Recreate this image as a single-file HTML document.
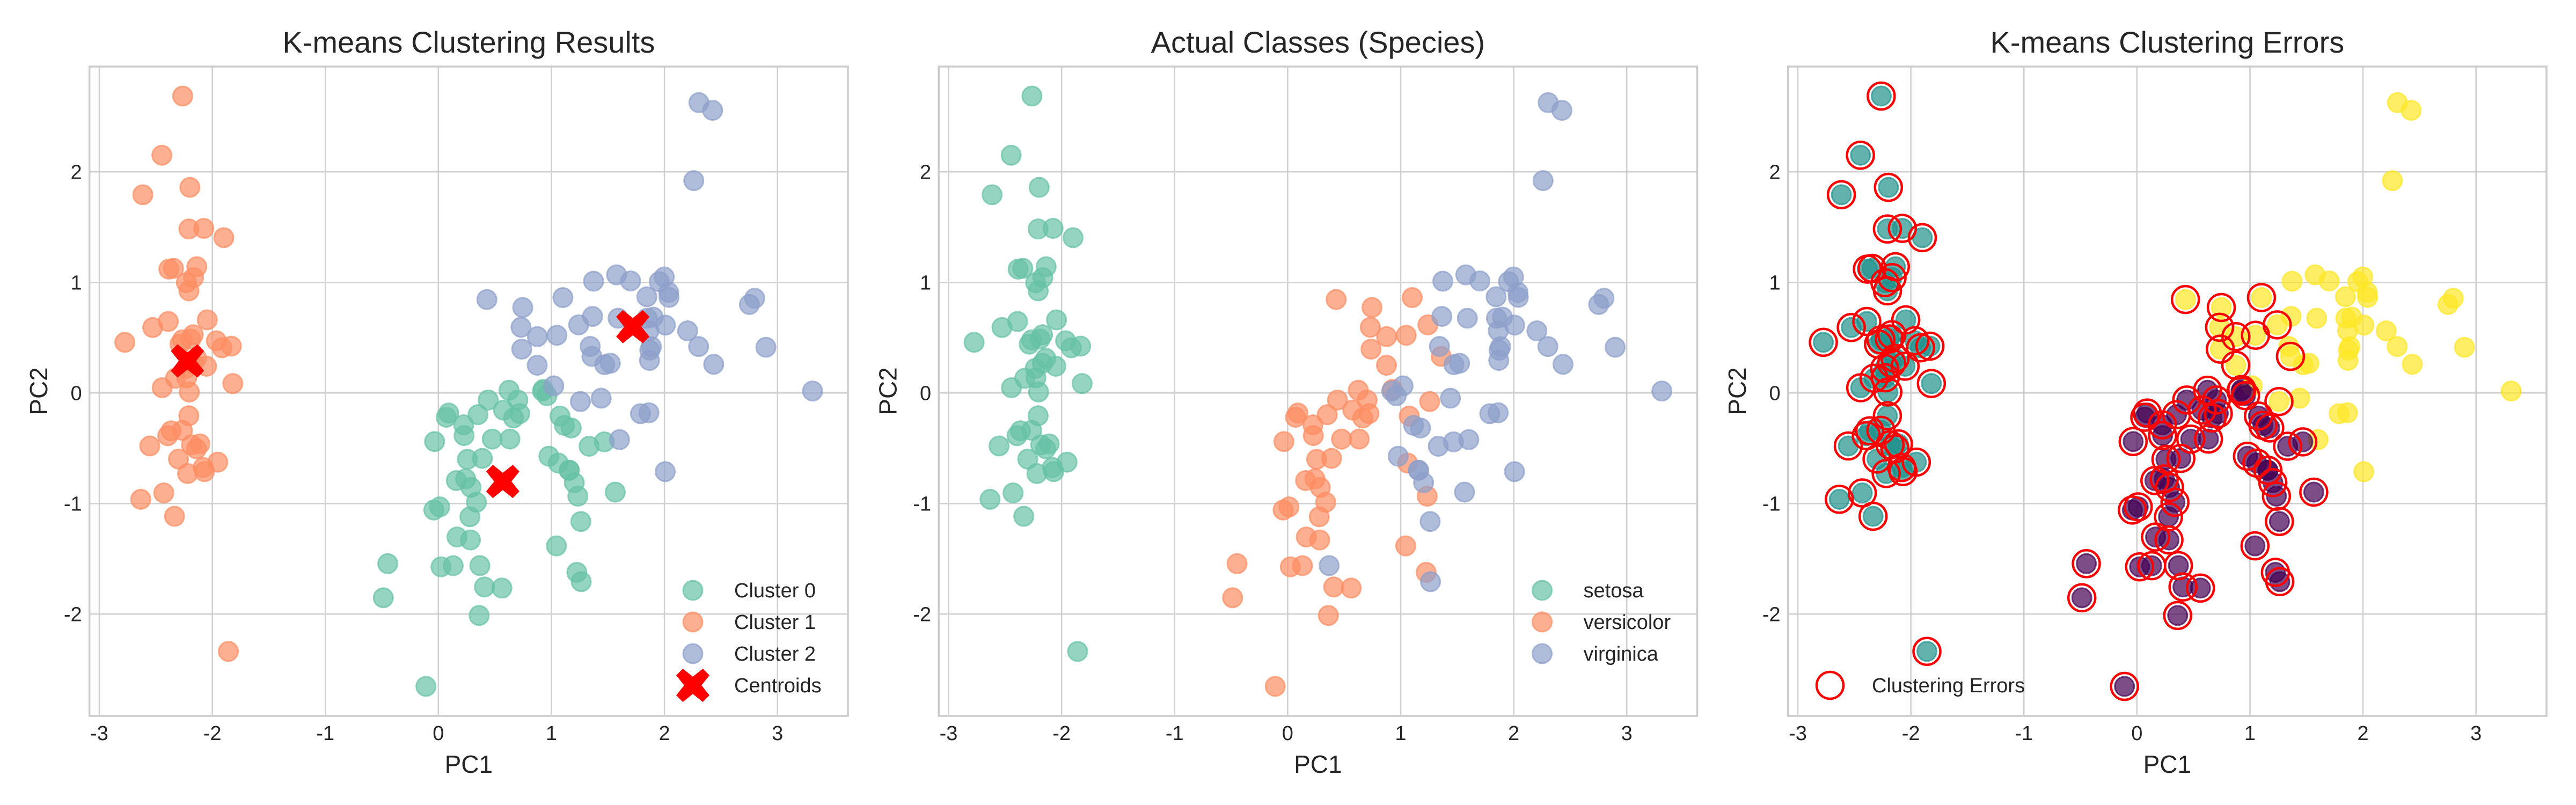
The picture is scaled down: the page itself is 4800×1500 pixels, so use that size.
<!DOCTYPE html>
<html><head><meta charset="utf-8"><style>
html,body{margin:0;padding:0;background:#fff;}
svg{display:block;font-family:"Liberation Sans",sans-serif;}
</style></head><body>
<svg id="fig" width="4800" height="1500" viewBox="0 0 4800 1500" xmlns="http://www.w3.org/2000/svg"></svg>
<script>
const setosa=[[-2.2647,0.4800],[-2.0810,-0.6741],[-2.3642,-0.3419],[-2.2994,-0.5974],[-2.3898,0.6468],[-2.0756,1.4892],[-2.4440,0.0476],[-2.2328,0.2231],[-2.3346,-1.1153],[-2.1843,-0.4690],[-2.1663,1.0437],[-2.3261,0.1331],[-2.2185,-0.7287],[-2.6331,-0.9615],[-2.1987,1.8601],[-2.2622,2.6863],[-2.2076,1.4836],[-2.1904,0.4888],[-1.8986,1.4050],[-2.3434,1.1278],[-1.9143,0.4089],[-2.2070,0.9241],[-2.7743,0.4583],[-1.8187,0.0856],[-2.2272,0.1373],[-1.9518,-0.6256],[-2.0512,0.2422],[-2.1686,0.5272],[-2.1396,0.3132],[-2.2653,-0.3377],[-2.1401,-0.5045],[-1.8316,0.4237],[-2.6149,1.7936],[-2.4462,2.1507],[-2.1100,-0.4602],[-2.2078,-0.2061],[-2.0451,0.6616],[-2.5273,0.5923],[-2.4296,-0.9042],[-2.1697,0.2689],[-2.2865,0.4417],[-1.8581,-2.3374],[-2.5536,-0.4791],[-1.9644,0.4723],[-2.1371,1.1422],[-2.0697,-0.7111],[-2.3847,1.1204],[-2.3944,-0.3862],[-2.2294,0.9980],[-2.2038,0.0092]];
const versicolor=[[1.1018,0.8630],[0.7313,0.5946],[1.2410,0.6163],[0.4075,-1.7544],[1.0755,-0.2084],[0.3887,-0.5914],[0.7465,0.7732],[-0.4873,-1.8524],[0.9279,0.0323],[0.0114,-1.0304],[-0.1102,-2.6541],[0.4407,-0.0633],[0.5621,-1.7647],[0.7196,-0.1862],[-0.0334,-0.4390],[0.8755,0.5100],[0.3503,-0.1963],[0.1588,-0.7921],[1.2251,-1.6224],[0.1649,-1.3026],[0.7377,0.3966],[0.4762,-0.4173],[1.2341,-0.9333],[0.6329,-0.4164],[0.7028,-0.0634],[0.8744,0.2508],[1.2565,-0.0773],[1.3584,0.3313],[0.6648,-0.2259],[-0.0403,-1.0587],[0.1308,-1.5623],[0.0235,-1.5725],[0.2415,-0.7773],[1.0611,-0.6338],[0.2240,-0.2878],[0.4291,0.8456],[1.0487,0.5222],[1.0445,-1.3830],[0.0696,-0.2195],[0.2835,-1.3293],[0.2791,-1.1200],[0.6248,0.0249],[0.3365,-0.9884],[0.3604,-2.0125],[0.2886,-0.8541],[0.0910,-0.1812],[0.2272,-0.3849],[0.5764,-0.1547],[-0.4477,-1.5438],[0.2567,-0.6000]];
const virginica=[[1.8446,0.8704],[1.1579,-0.6989],[2.2053,0.5620],[1.4402,-0.0470],[1.8678,0.2950],[2.7519,0.8004],[0.3670,-1.5615],[2.3024,0.4201],[2.0069,-0.7114],[2.2598,1.9210],[1.3642,0.6928],[1.6027,-0.4217],[1.8843,0.4192],[1.2606,-1.1622],[1.4676,-0.4423],[1.5901,0.6762],[1.4714,0.2556],[2.4263,2.5567],[3.3107,0.0178],[1.2638,-1.7067],[2.0377,0.9105],[0.9780,-0.5718],[2.8977,0.4136],[1.3332,-0.4818],[1.7004,1.0139],[1.9543,1.0078],[1.1751,-0.3164],[1.0210,0.0643],[1.7883,-0.1874],[1.8636,0.5623],[2.4360,0.2593],[2.3048,2.6263],[1.8627,-0.1785],[1.1148,-0.2929],[1.2027,-0.8113],[2.7988,0.8568],[1.5763,1.0686],[1.3429,0.4211],[0.9204,0.0172],[1.8474,0.6767],[2.0081,0.6139],[1.9009,0.6860],[1.1579,-0.6989],[2.0406,0.8649],[1.9981,1.0492],[1.8705,0.3870],[1.5646,-0.8967],[1.5212,0.2691],[1.3728,1.0113],[0.9607,-0.0243]];
const centroidX=[0.57,-2.22,1.72];
const centroidY=[-0.80,0.29,0.60];
const xTicks=[-3,-2,-1,0,1,2,3];
const yTicks=[-2,-1,0,1,2];
const clusterNames=["Cluster 0","Cluster 1","Cluster 2"];
const speciesNames=["setosa","versicolor","virginica"];
const titles=["K-means Clustering Results","Actual Classes (Species)","K-means Clustering Errors"];

const NS="http://www.w3.org/2000/svg";
const svg=document.getElementById('fig');
const set2=["#66c2a5","#fc8d62","#8da0cb"];
const vir=["#440154","#21918c","#fde725"];
const PW=1582.5, AL=166.7, AR=1580, AT=124, AB=1334;
const XMIN=-3.087, XMAX=3.6235, YMIN=-2.921, YMAX=2.953;
function X(v,p){return AL+(v-XMIN)/(XMAX-XMIN)*(AR-AL)+p*PW;}
function Y(v){return AT+(YMAX-v)/(YMAX-YMIN)*(AB-AT);}
function mk(tag,attrs,parent){const e=document.createElementNS(NS,tag);for(const k in attrs)e.setAttribute(k,attrs[k]);(parent||svg).appendChild(e);return e;}

const pts=[];
[setosa,versicolor,virginica].forEach((arr,s)=>arr.forEach(d=>pts.push({x:d[0],y:d[1],sp:s})));
pts.forEach(p=>{let best=0,bd=1e9;for(let c=0;c<3;c++){const d=(p.x-centroidX[c])**2+(p.y-centroidY[c])**2;if(d<bd){bd=d;best=c;}}p.cl=best;});

function dot(g,x,y,col,r,name){
  const c=mk('circle',{cx:x,cy:y,r:r,fill:col,'fill-opacity':0.7,stroke:col,'stroke-opacity':0.7,'stroke-width':3},g);
  
  
  return c;
}
function xMark(g,cx,cy,s){
  const a=s*0.5,b=s*0.2;
  const d=`M${cx-a},${cy-a+b} L${cx-a+b},${cy-a} L${cx},${cy-b*1.3} L${cx+a-b},${cy-a} L${cx+a},${cy-a+b} L${cx+b*1.3},${cy} L${cx+a},${cy+a-b} L${cx+a-b},${cy+a} L${cx},${cy+b*1.3} L${cx-a+b},${cy+a} L${cx-a},${cy+a-b} L${cx-b*1.3},${cy} Z`;
  const e=mk('path',{d:d,fill:'#ff0000'},g);
  
  
}
function txt(g,x,y,s,size,anchor,extra){const t=mk('text',Object.assign({x:x,y:y,'font-size':size,'text-anchor':anchor||'start',fill:'#262626'},extra||{}),g);t.textContent=s;return t;}

for(let p=0;p<3;p++){
  const g=mk('g',{});
  
  
  const l=AL+p*PW,r=AR+p*PW;
  const grid=mk('g',{stroke:'#cfcfcf','stroke-width':2.5},g);
  
  
  xTicks.forEach(t=>{mk('line',{x1:X(t,p),x2:X(t,p),y1:AT,y2:AB},grid);
    const tl=txt(g,X(t,p),1379,String(t),38,'middle');
    
    });
  yTicks.forEach(t=>{mk('line',{x1:l,x2:r,y1:Y(t),y2:Y(t)},grid);
    const tl=txt(g,l-14,Y(t)+13,String(t),38,'end');
    
    });
  const frame=mk('rect',{x:l,y:AT,width:r-l,height:AB-AT,fill:'none',stroke:'#cccccc','stroke-width':3.5},g);
  
  
  const tt=txt(g,(l+r)/2,98,titles[p],56,'middle');
  
  
  const xl=txt(g,(l+r)/2,1440,'PC1',46,'middle');
  
  
  const yl=txt(g,0,0,'PC2',46,'middle',{transform:`translate(${88+p*PW},${(AT+AB)/2}) rotate(-90)`});
  
  

  const pg=mk('g',{},g);
  
  
  if(p===0){
    for(let c=0;c<3;c++)pts.filter(q=>q.cl===c).forEach(q=>dot(pg,X(q.x,p),Y(q.y),set2[c],18,'point-cluster-'+c));
    for(let c=0;c<3;c++)xMark(pg,X(centroidX[c],p),Y(centroidY[c]),62);
  }else if(p===1){
    for(let s=0;s<3;s++)pts.filter(q=>q.sp===s).forEach(q=>dot(pg,X(q.x,p),Y(q.y),set2[s],18,'point-'+speciesNames[s]));
  }else{
    pts.forEach(q=>dot(pg,X(q.x,p),Y(q.y),vir[q.cl],18,'point-cluster-'+q.cl));
    pts.filter(q=>q.cl!==q.sp).forEach(q=>{
      const e=mk('circle',{cx:X(q.x,p),cy:Y(q.y),r:25,fill:'none',stroke:'#ff0000','stroke-width':4.5},pg);
      
      
    });
  }
  const lg=mk('g',{},g);
  
  
  if(p<2){
    const names=p===0?clusterNames:speciesNames;
    names.forEach((n,i)=>{const yy=1100+i*59;
      dot(lg,1291+p*PW,yy,set2[i],18,'legend-marker');
      const t=txt(lg,1368+p*PW,yy+13,n,38,'start');
      
      });
    if(p===0){xMark(lg,1291,1277,62);
      const t=txt(lg,1368,1290,'Centroids',38,'start');
      
      }
  }else{
    const e=mk('circle',{cx:3410,cy:1277,r:25,fill:'none',stroke:'#ff0000','stroke-width':4.5},lg);
    
    
    const t=txt(lg,3488,1290,'Clustering Errors',38,'start');
    
    
  }
}
</script>
</body></html>
